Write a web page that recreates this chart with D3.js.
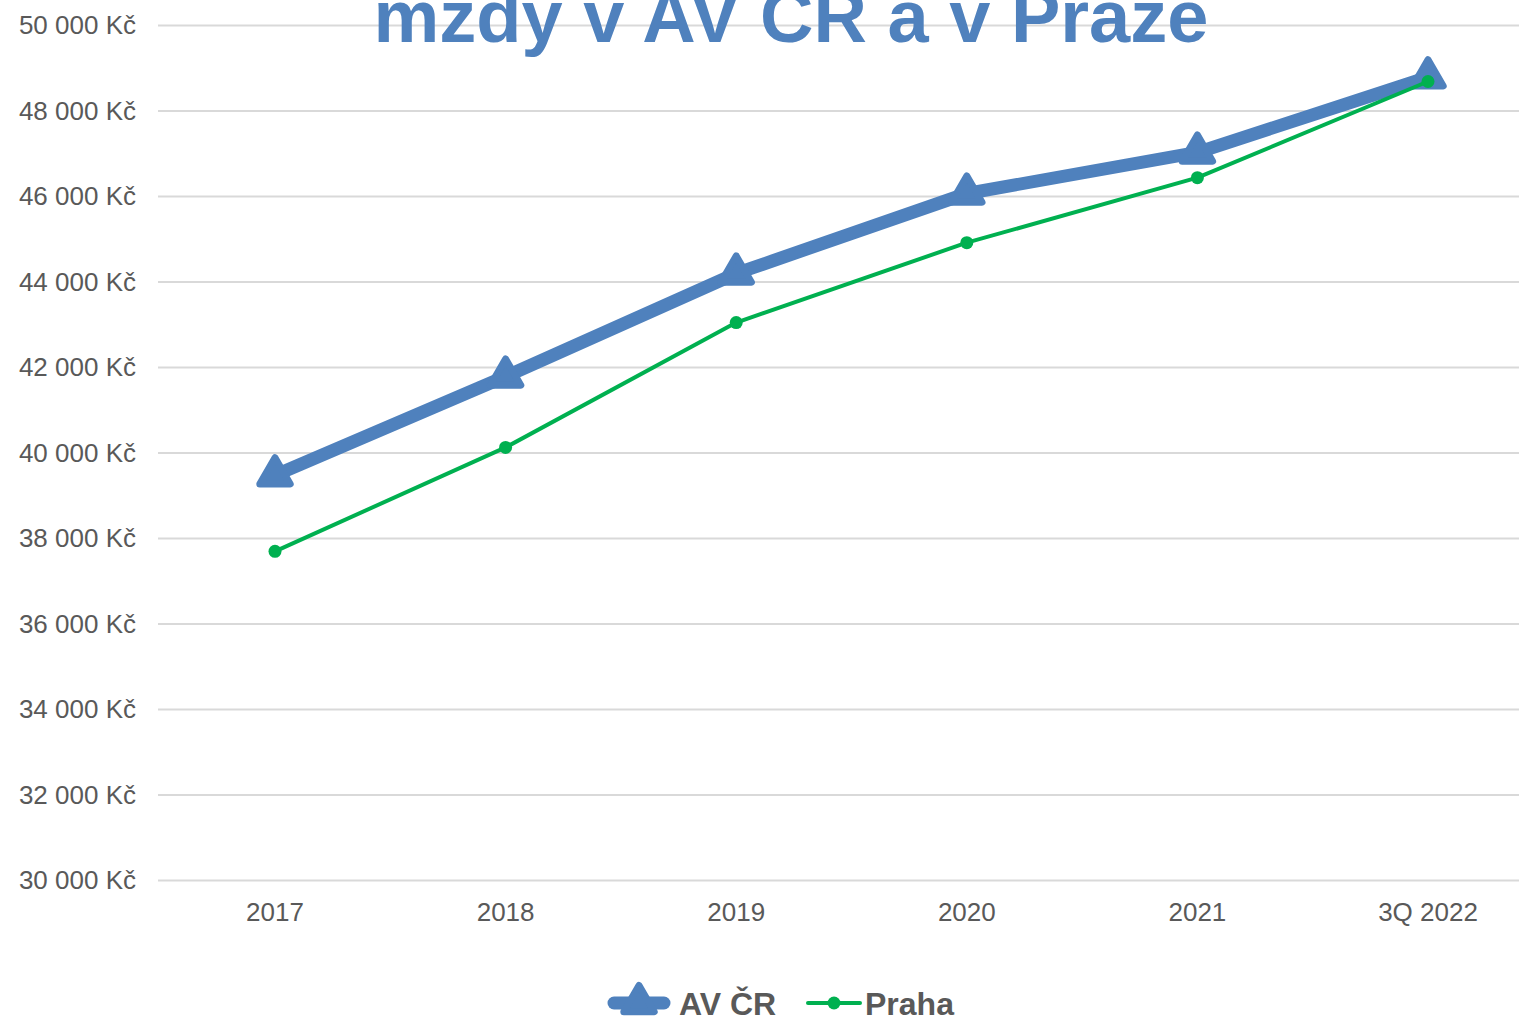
<!DOCTYPE html>
<html><head><meta charset="utf-8">
<script src="https://cdn.jsdelivr.net/npm/d3@7/dist/d3.min.js"></script>
<style>html,body{margin:0;padding:0;background:#fff;overflow:hidden}svg{display:block}</style>
</head><body>
<svg id="c" width="1519" height="1017"></svg>
<script>
const categories = ["2017","2018","2019","2020","2021","3Q 2022"];
const avcr = [39480, 41790, 44200, 46070, 47030, 48790];
const praha = [37700, 40130, 43050, 44920, 46440, 48690];
const yTicks = [30000,32000,34000,36000,38000,40000,42000,44000,46000,48000,50000];
const titleText = "mzdy v AV ČR a v Praze";
const seriesNames = ["AV ČR","Praha"];

const svg = d3.select("#c");
const font = "'Liberation Sans', Arial, sans-serif";
const blue = "#4f81bd", green = "#00b050", grey = "#595959";

const x = d3.scaleBand().domain(categories).range([159.7, 1543.3]);
const y = d3.scaleLinear().domain([30000, 50000]).range([880.5, 25.5]);

// gridlines
svg.append("g").selectAll("line").data(yTicks).join("line")
  .attr("x1", 158).attr("x2", 1519)
  .attr("y1", d => y(d)).attr("y2", d => y(d))
  .attr("stroke", "#d9d9d9").attr("stroke-width", 2);

// y axis labels
const fmt = d => d3.format(",")(d).replace(/,/g, " ") + " Kč";
const yAxis = svg.append("g").attr("transform", "translate(158,0)")
  .call(d3.axisLeft(y).tickValues(yTicks).tickFormat(fmt).tickSize(0).tickPadding(22));
yAxis.select(".domain").remove();
yAxis.selectAll("text").attr("font-family", font).attr("font-size", 26).attr("fill", grey);

// x axis labels
const xAxis = svg.append("g").attr("transform", "translate(0,880.5)")
  .call(d3.axisBottom(x).tickSize(0).tickPadding(22));
xAxis.select(".domain").remove();
xAxis.selectAll("text").attr("font-family", font).attr("font-size", 26).attr("fill", grey);

const cx = d => x(d) + x.bandwidth() / 2;

// AV CR line
const line = d3.line().x((d, i) => cx(categories[i])).y(d => y(d));
svg.append("path").datum(avcr).attr("d", line).attr("fill", "none")
  .attr("stroke", blue).attr("stroke-width", 13).attr("stroke-linejoin", "round").attr("stroke-linecap", "round");
const tri = d3.symbol().type(d3.symbolTriangle).size(400);
svg.append("g").selectAll("path").data(avcr).join("path")
  .attr("transform", (d, i) => `translate(${cx(categories[i])},${y(d)})`)
  .attr("d", tri).attr("fill", blue).attr("stroke", blue).attr("stroke-width", 7).attr("stroke-linejoin", "round");

// Praha line
svg.append("path").datum(praha).attr("d", line).attr("fill", "none")
  .attr("stroke", green).attr("stroke-width", 4).attr("stroke-linejoin", "round");
svg.append("g").selectAll("circle").data(praha).join("circle")
  .attr("cx", (d, i) => cx(categories[i])).attr("cy", d => y(d)).attr("r", 6.5).attr("fill", green);

// title
svg.append("text").attr("x", 791).attr("y", 42).attr("text-anchor", "middle")
  .attr("font-family", font).attr("font-weight", "bold").attr("font-size", 74).attr("fill", blue)
  .text(titleText);

// legend
const lg = svg.append("g");
lg.append("line").attr("x1", 614).attr("x2", 664).attr("y1", 1003).attr("y2", 1003)
  .attr("stroke", blue).attr("stroke-width", 13).attr("stroke-linecap", "round");
lg.append("path").attr("transform", "translate(639,1003)").attr("d", tri)
  .attr("fill", blue).attr("stroke", blue).attr("stroke-width", 7).attr("stroke-linejoin", "round");
lg.append("text").attr("x", 679).attr("y", 1015).attr("font-family", font).attr("font-weight", "bold")
  .attr("font-size", 32).attr("fill", grey).text(seriesNames[0]);
lg.append("line").attr("x1", 808).attr("x2", 860).attr("y1", 1003).attr("y2", 1003)
  .attr("stroke", green).attr("stroke-width", 4).attr("stroke-linecap", "round");
lg.append("circle").attr("cx", 834).attr("cy", 1003).attr("r", 6.5).attr("fill", green);
lg.append("text").attr("x", 865).attr("y", 1015).attr("font-family", font).attr("font-weight", "bold")
  .attr("font-size", 32).attr("fill", grey).text(seriesNames[1]);
</script>
</body></html>
